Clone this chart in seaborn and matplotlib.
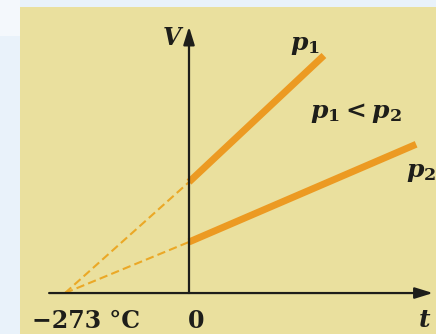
import matplotlib
matplotlib.use("Agg")
import matplotlib.pyplot as plt
from matplotlib.patches import Rectangle
import seaborn as sns
import pandas as pd

sns.set_theme(style="white")
plt.rcParams['font.family'] = ['DejaVu Serif', 'DejaVu Sans']
plt.rcParams['mathtext.fontset'] = 'custom'
plt.rcParams['mathtext.it'] = 'DejaVu Serif:italic:bold'
plt.rcParams['mathtext.rm'] = 'DejaVu Serif:bold'
plt.rcParams['mathtext.default'] = 'it'

# Data (temperature in °C, volume in relative units)
t_p1 = [0, 297]
V_p1 = [1.0, 2.14]
t_p2 = [0, 500]
V_p2 = [0.46, 1.34]
ext_t = [-273, 0]
ext_V1 = [0.0, 1.0]
ext_V2 = [0.0, 0.46]
xtick_labels = ["\u2212273 \u00b0C", "0"]

fig = plt.figure(figsize=(4.36, 3.34), dpi=100)
fig.patch.set_facecolor("#E9F2FA")
W, H = 436, 334
fig.patches.append(Rectangle((0, 1 - 36 / H), 20 / W, 36 / H, transform=fig.transFigure,
                             facecolor="#F4F8FC", edgecolor="none", zorder=-2))
fig.patches.append(Rectangle((20 / W, 0), 416 / W, 1 - 7 / H, transform=fig.transFigure,
                             facecolor="#EAE09E", edgecolor="none", zorder=-2))

ax = fig.add_axes([0, 0, 1, 1])
ax.set_zorder(2)
ax.set_facecolor("none")
ax.patch.set_alpha(0)
ax.set_xlim(-416.1, 543.8)
ax.set_ylim(-0.369, 2.640)
ax.axis("off")

solid_col = "#EC9A22"
dash_col = "#EBA826"

df1 = pd.DataFrame({"t": t_p1, "V": V_p1})
df2 = pd.DataFrame({"t": t_p2, "V": V_p2})
sns.lineplot(data=df1, x="t", y="V", ax=ax, color=solid_col, linewidth=5.0,
             solid_capstyle="butt", zorder=3)
sns.lineplot(data=df2, x="t", y="V", ax=ax, color=solid_col, linewidth=5.0,
             solid_capstyle="butt", zorder=3)
sns.lineplot(x=ext_t, y=ext_V1, ax=ax, color=dash_col, linewidth=1.5,
             linestyle=(0, (4, 2)), zorder=3)
sns.lineplot(x=ext_t, y=ext_V2, ax=ax, color=dash_col, linewidth=1.5,
             linestyle=(0, (4, 2)), zorder=3)

# axes with arrows
ax.annotate("", xy=(537, 0), xytext=(-308, 0),
            arrowprops=dict(arrowstyle="-|>,head_length=0.9,head_width=0.28",
                            color="#1E1E1A", lw=1.6, shrinkA=0, shrinkB=0), zorder=4)
ax.annotate("", xy=(0, 2.40), xytext=(0, 0),
            arrowprops=dict(arrowstyle="-|>,head_length=0.9,head_width=0.28",
                            color="#1E1E1A", lw=1.6, shrinkA=0, shrinkB=0), zorder=4)

tc = "#1E1E1A"
ax.text(ext_t[0] + 46, -0.25, xtick_labels[0], fontsize=17, color=tc, ha="center",
        va="center", fontweight="bold")
ax.text(15, -0.25, xtick_labels[1], fontsize=17, color=tc, ha="center", va="center",
        fontweight="bold")
ax.text(519, -0.245, "t", fontsize=18, color=tc, ha="center", va="center",
        style="italic", fontweight="bold")
ax.text(-37, 2.295, "V", fontsize=17, color=tc, ha="center", va="center",
        style="italic", fontweight="bold")
ax.text(255, 2.23, "$p_1$", fontsize=18, color=tc, ha="center", va="center")
ax.text(368, 1.62, "$p_1 < p_2$", fontsize=18, color=tc, ha="center", va="center")
ax.text(511, 1.09, "$p_2$", fontsize=18, color=tc, ha="center", va="center")

fig.savefig("out.png", dpi=100, facecolor=fig.get_facecolor())
